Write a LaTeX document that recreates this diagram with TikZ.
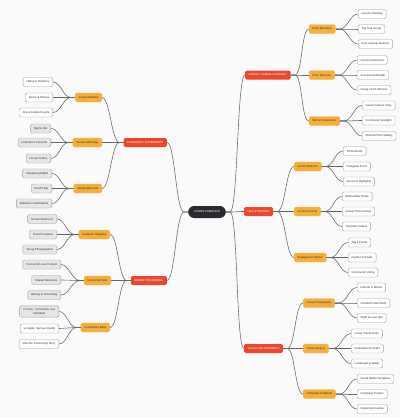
\documentclass[tikz,border=0pt]{standalone}
\usepackage{fontspec}
\setmainfont{Liberation Sans}

\definecolor{bgcol}{RGB}{250,250,250}
\definecolor{rootcol}{RGB}{42,42,46}
\definecolor{maincol}{RGB}{233,72,45}
\definecolor{subcol}{RGB}{245,174,58}
\definecolor{leafgray}{RGB}{230,230,230}
\definecolor{edgecol}{RGB}{100,100,100}
\definecolor{txtcol}{RGB}{45,45,45}

\tikzset{
  box/.style={rounded corners=1.5pt, inner xsep=3.5pt, inner ysep=0pt,
    minimum height=9pt, align=center, text=txtcol,
    font=\fontsize{2.8}{3.3}\selectfont},
  root/.style={box, fill=rootcol, text=white, rounded corners=6pt,
    minimum height=12pt, inner xsep=6pt},
  main/.style={box, fill=maincol, text=white},
  sub/.style={box, fill=subcol, draw=subcol!85!white, line width=0.3pt},
  leaf/.style={box, fill=white, draw=gray!75, line width=0.4pt},
  leafg/.style={leaf, fill=leafgray},
  tall/.style={leafg, inner ysep=3pt},
  link/.style={draw=edgecol, line width=0.55pt},
}
\def\stub{4}
\def\bend{8}

\begin{document}
\begin{tikzpicture}[x=1pt,y=-1pt]
  % canvas
  \useasboundingbox (0,0) rectangle (400,418);
  \fill[bgcol] (0,0) rectangle (400,418);
  % centre
  \node[root] (canon) at (207,212) {CANON CAMPAIGN};
  % main branches
  \node[main, anchor=east] (cx) at (167,142.5) {COMMUNITY EXPERIENCE};
  \node[main, anchor=east] (bp) at (167,280.5) {BRAND POSITIONING};
  \node[main, anchor=west] (gcg) at (245,75) {GROUP CAMERA GIVEAWAY};
  \node[main, anchor=west] (ugc) at (244,211.5) {UGC STRATEGY};
  \node[main, anchor=west] (vd) at (244,348.5) {VISUAL DELIVERABLES};
  \foreach \m in {cx,bp}
    \draw[link] (canon.west) -- ++(-\stub,0) .. controls +(-\bend,0) and +(\bend,0) .. (\m.east);
  \foreach \m in {gcg,ugc,vd}
    \draw[link] (canon.east) -- ++(\stub,0) .. controls +(\bend,0) and +(-\bend,0) .. (\m.west);
  % sub branches, left
  \foreach \n/\p/\x/\y/\t in {
    ga/cx/102/97.5/Group Activities,
    sg/cx/102/142.5/Social Gatherings,
    sm/cx/102/188.5/Shared Moments,
    at/bp/110/234.5/Audience Targeting,
    eh/bp/111/280.5/Emotional Hook,
    ce/bp/110/327.5/Competitive Edge}{
    \node[sub, anchor=east] (\n) at (\x,\y) {\t};
    \draw[link] (\p.west) -- ++(-\stub,0) .. controls +(-\bend,0) and +(\bend,0) .. (\n.east);
  }
  % sub branches, right
  \foreach \n/\p/\x/\y/\t in {
    em/gcg/309/29/Entry Mechanic,
    ps/gcg/309/75/Prize Structure,
    we/gcg/309/121/Winner Experience,
    sp/ugc/294/166.5/Social Platforms,
    cf/ugc/294/211.5/Content Format,
    et/ugc/294/257.5/Engagement Tactics,
    gp/vd/303/303/Group Photography,
    ti/vd/303/348.5/Travel Imagery,
    cc/vd/303/394/Campaign Collateral}{
    \node[sub, anchor=west] (\n) at (\x,\y) {\t};
    \draw[link] (\p.east) -- ++(\stub,0) .. controls +(\bend,0) and +(-\bend,0) .. (\n.west);
  }
  % leaves, left
  \foreach \n/\p/\x/\y/\s/\t in {
    ga1/ga/53/82/leaf/Hiking \& Outdoors,
    ga2/ga/53/97.5/leaf/Sports \& Fitness,
    ga3/ga/53/112.5/leaf/Arts \& Culture Events,
    sg1/sg/51/128.5/leafg/Nights Out,
    sg2/sg/51/142.5/leafg/Festivals \& Concerts,
    sg3/sg/51/158.5/leafg/House Parties,
    sm1/sm/52/173.5/leafg/Stargazing Nights,
    sm2/sm/52/188.5/leafg/Road Trips,
    sm3/sm/52/203.5/leafg/Milestone Celebrations,
    at1/at/57/219/leafg/Social Influencers,
    at2/at/57/234.5/leafg/Travel Creatives,
    at3/at/57/249.5/leafg/Young Photographers,
    eh1/eh/61/264.5/leafg/Connection over Content,
    eh2/eh/61/280/leafg/Shared Memories,
    eh3/eh/61/295/leafg/Belong to Something,
    ce1/ce/59/311.5/tall/vs Sony: Community over\\Individual,
    ce2/ce/59/328.5/leaf/vs Apple: Serious Quality,
    ce3/ce/59/344/leaf/Own the Community Story}{
    \node[\s, anchor=east] (\n) at (\x,\y) {\t};
    \draw[link] (\p.west) -- ++(-\stub,0) .. controls +(-\bend,0) and +(\bend,0) .. (\n.east);
  }
  % leaves, right
  \foreach \n/\p/\x/\y/\t in {
    em1/em/358/14/Use the Hashtag,
    em2/em/358/29/Tag Your Group,
    em3/em/358/44/Post a Group Moment,
    ps1/ps/357/60/Canon Camera Kit,
    ps2/ps/357/75/Accessories Bundle,
    ps3/ps/357/90/Group of 3-5 Winners,
    we1/we/362/105.5/Canon Feature Story,
    we2/we/362/120.5/Community Spotlight,
    we3/we/362/136/Shared Photo Gallery,
    sp1/sp/343/151/TikTok Reels,
    sp2/sp/343/166.5/Instagram Posts,
    sp3/sp/343/181.5/Stories \& Highlights,
    cf1/cf/342/196.5/{Before/After Shots},
    cf2/cf/342/211.5/Group Photo Dumps,
    cf3/cf/342/226.5/Transition Videos,
    et1/et/348/242.5/Tag a Friend,
    et2/et/348/257.5/Caption Prompts,
    et3/et/348/272.5/Community Voting,
    gp1/gp/357/287.5/Friends in Motion,
    gp2/gp/357/303/Candid Crowd Shots,
    gp3/gp/357/318/Night \& Low Light,
    ti1/ti/351/333.5/Group Travel Shots,
    ti2/ti/351/348.5/Destination Portraits,
    ti3/ti/351/363.5/Landscape \& Detail,
    cc1/cc/357/379/Social Media Templates,
    cc2/cc/357/394/Campaign Posters,
    cc3/cc/357/409/Digital Ad Creative}{
    \node[leaf, anchor=west] (\n) at (\x,\y) {\t};
    \draw[link] (\p.east) -- ++(\stub,0) .. controls +(\bend,0) and +(-\bend,0) .. (\n.west);
  }
\end{tikzpicture}
\end{document}
